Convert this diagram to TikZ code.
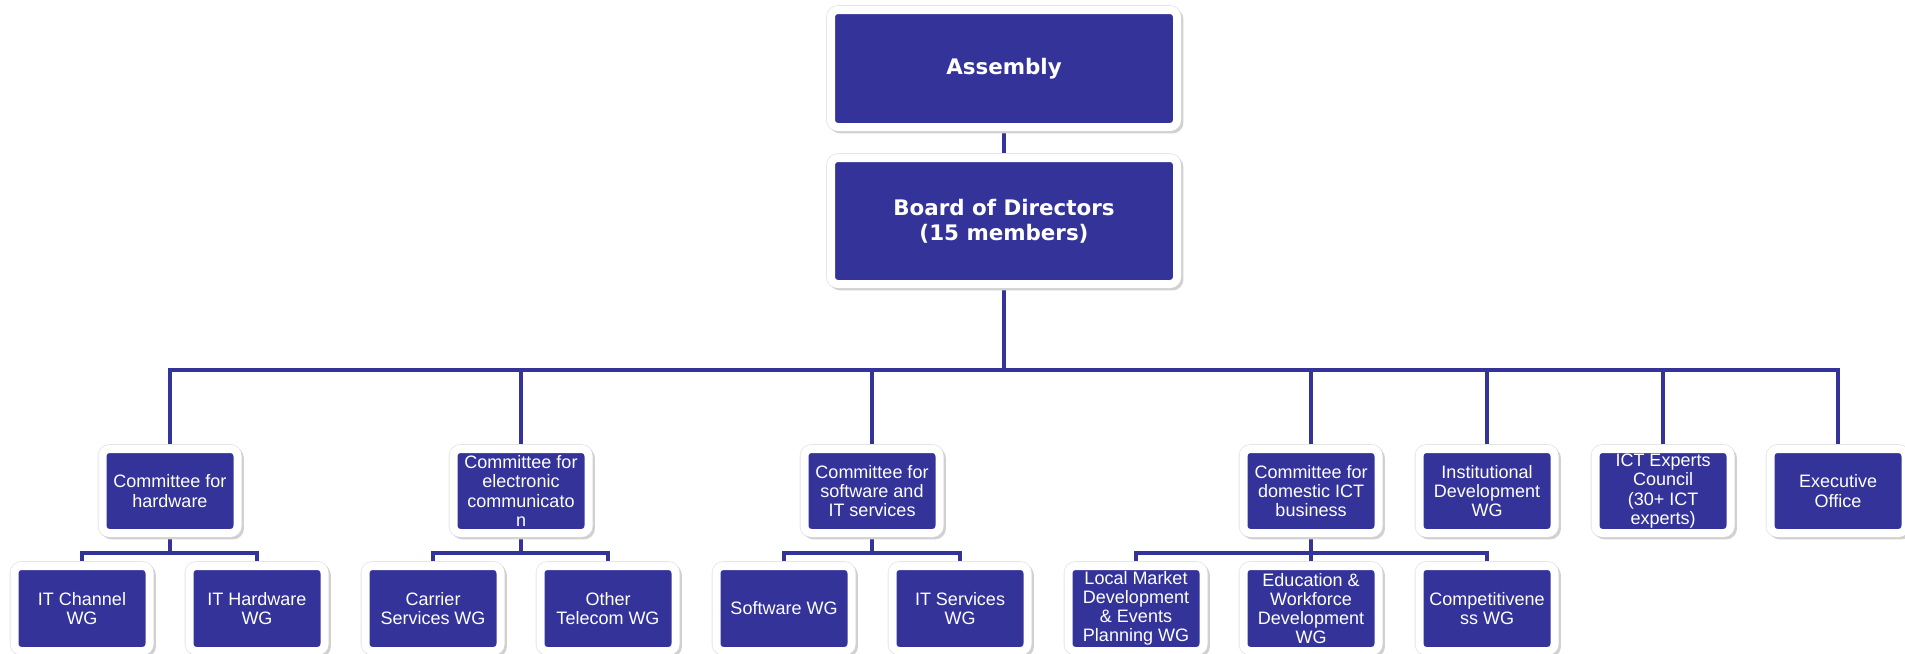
\documentclass[tikz,border=0pt]{standalone}
\usepackage{fontspec}
\newfontfamily\headfont{DejaVu Sans}
\newfontfamily\boxfont{Liberation Sans}
\usetikzlibrary{backgrounds}
\definecolor{boxblue}{RGB}{51,51,153}

\begin{document}
\begin{tikzpicture}[x=0.5pt,y=-0.5pt,
  org box/.style={rectangle,rounded corners=3.5pt,fill=boxblue,draw=white,line width=4pt,
    text=white,align=center,inner sep=0pt,
    preaction={draw=black!10,line width=4.8pt},
    preaction={draw=black!18,fill=black!18,line width=4pt,transform canvas={xshift=1.2pt,yshift=-1.2pt}}},
  top node/.style={org box,minimum width=173pt,font=\headfont\bfseries\fontsize{10.7}{12.3}\selectfont},
  main node/.style={org box,minimum width=67.5pt,minimum height=42pt,font=\boxfont\fontsize{9}{9.6}\selectfont},
  sub node/.style={main node,minimum height=42.5pt},
  link/.style={draw=boxblue,line width=2.2pt},
  elbow/.style={to path={-- ++(0,#1) -| (\tikztotarget)}}]

  \useasboundingbox (0,0) rectangle (1905,653);

  \node[top node,minimum height=58.5pt] (asm) at (1004,68.5) {Assembly};
  \node[top node,minimum height=63pt] (board) at (1004,221) {Board of Directors\\(15 members)};

  \node[main node] (hw) at (170,491) {Committee for\\hardware};
  \node[main node] (ec) at (521,491) {Committee for\\electronic\\communicato\\n};
  \node[main node] (sw) at (872,491) {Committee for\\software and\\IT services};
  \node[main node] (dom) at (1311,491) {Committee for\\domestic ICT\\business};
  \node[main node] (inst) at (1487,491) {Institutional\\Development\\WG};
  \node[main node] (ict) at (1663,491) {ICT Experts\\Council\\(30+ ICT\\experts)};
  \node[main node] (exec) at (1838,491) {Executive\\Office};

  \node[sub node] (itch) at (82,608.5) {IT Channel\\WG};
  \node[sub node] (ithw) at (257,608.5) {IT Hardware\\WG};
  \node[sub node] (carr) at (433,608.5) {Carrier\\Services WG};
  \node[sub node] (tele) at (608,608.5) {Other\\Telecom WG};
  \node[sub node] (soft) at (784,608.5) {Software WG};
  \node[sub node] (itsv) at (960,608.5) {IT Services\\WG};
  \node[sub node] (lmd) at (1136,608.5) {Local Market\\Development\\\& Events\\Planning WG};
  \node[sub node] (edu) at (1311,608.5) {Education \&\\Workforce\\Development\\WG};
  \node[sub node] (comp) at (1487,608.5) {Competitivene\\ss WG};

  \begin{scope}[on background layer]
  \path[link]
    (asm) edge (board)
    (board.south) edge[elbow=82] (hw.north)
    (board.south) edge[elbow=82] (ec.north)
    (board.south) edge[elbow=82] (sw.north)
    (board.south) edge[elbow=82] (dom.north)
    (board.south) edge[elbow=82] (inst.north)
    (board.south) edge[elbow=82] (ict.north)
    (board.south) edge[elbow=82] (exec.north);

  \path[link]
    (hw.south) edge[elbow=16] (itch.north)
    (hw.south) edge[elbow=16] (ithw.north)
    (ec.south) edge[elbow=16] (carr.north)
    (ec.south) edge[elbow=16] (tele.north)
    (sw.south) edge[elbow=16] (soft.north)
    (sw.south) edge[elbow=16] (itsv.north)
    (dom.south) edge[elbow=16] (lmd.north)
    (dom.south) edge[elbow=16] (edu.north)
    (dom.south) edge[elbow=16] (comp.north)
    ;
  \end{scope}

\end{tikzpicture}
\end{document}
